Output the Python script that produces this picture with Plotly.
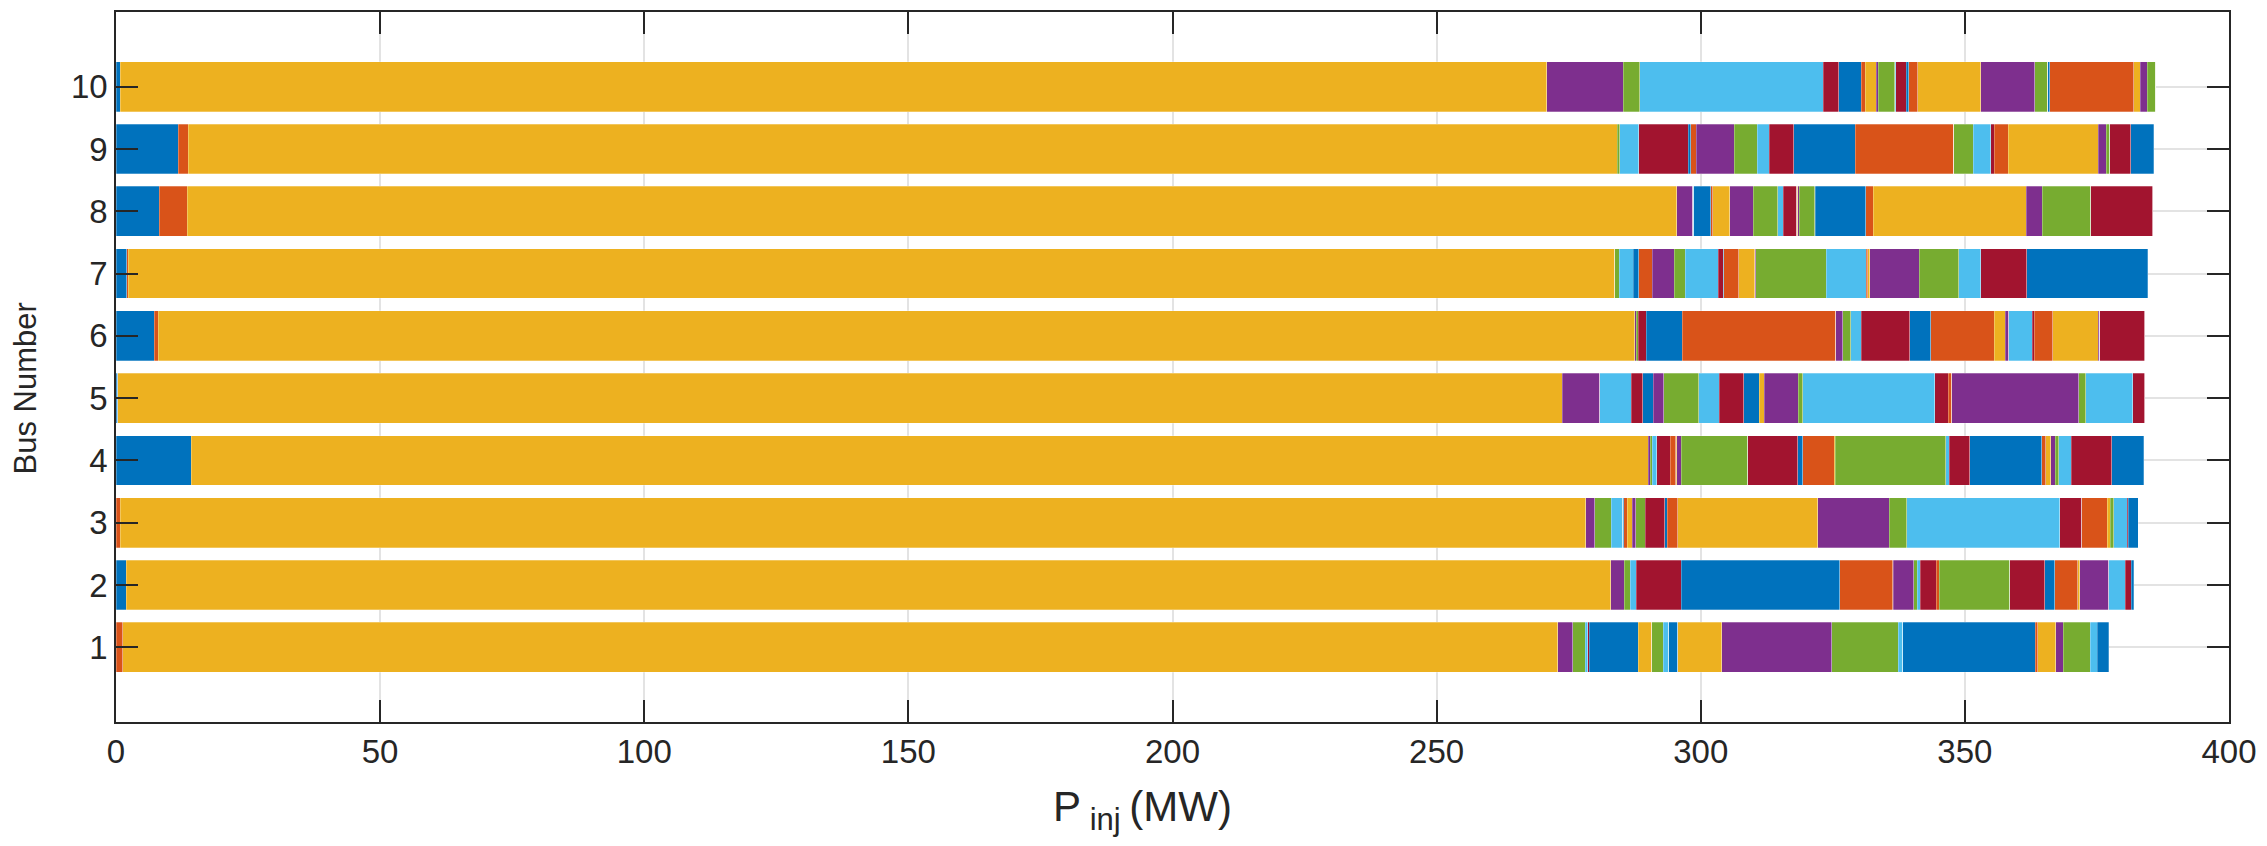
import plotly.graph_objects as go

buses = [1, 2, 3, 4, 5, 6, 7, 8, 9, 10]

# Stacked contributions (MW) for each bus, in stacking order (colour cycle repeats every 7)
bus1 = [0, 1.3, 271.67, 2.79, 2.36, 0.5, 0.25, 9.3, 0, 2.54, 0, 2.19, 1.02, 0, 1.69, 0,
        8.36, 20.86, 12.58, 0.85, 0, 25.08, 0.42, 3.47, 1.43, 5.07, 1.35, 0, 2.2]
bus2 = [1.95, 0, 280.99, 2.53, 1.18, 1.1, 8.53, 30.07, 9.97, 0.15, 3.82, 0.67, 0.59, 3.04, 0, 0.59,
        0, 0, 13.35, 0, 6.59, 1.86, 4.39, 0.42, 5.49, 0, 3.12, 1.1, 0.5]
bus3 = [0, 0.8, 277.4, 1.69, 3.12, 2.2, 0, 0.25, 0.59, 1.02, 0.67, 1.78, 0, 3.71, 0.42, 2.03,
        26.44, 13.6, 3.29, 28.97, 4.14, 0, 4.81, 0.6, 0, 0.68, 2.52, 0.17, 1.94]
bus4 = [14.2, 0, 275.9, 0.34, 0.34, 0.92, 2.54, 0, 1.01, 0.25, 0.85, 12.5, 0, 9.54, 0.93, 5.91,
        0.25, 0, 20.87, 0.67, 3.89, 13.6, 0.76, 1.01, 0.84, 0.68, 2.36, 7.61, 6.08]
bus5 = [0.3, 0, 273.5, 7.09, 0, 5.91, 2.2, 2.03, 0, 0, 1.94, 6.67, 3.89, 4.64, 2.87, 0,
        1.02, 6.42, 0.84, 25.0, 2.53, 0, 0.68, 0, 23.99, 1.35, 8.95, 2.2, 0]
bus6 = [7.2, 0.8, 279.5, 0.25, 0.42, 0, 1.53, 6.84, 29.05, 0, 1.27, 1.52, 2.02, 9.21, 3.89, 12.07,
        2.03, 0.68, 0, 4.47, 0.34, 0, 3.55, 8.61, 0.25, 0, 0, 8.54, 0]
bus7 = [2.0, 0.3, 281.4, 0, 0.84, 2.71, 0, 1.01, 2.53, 0, 4.23, 2.02, 6.25, 0.93, 0.17, 2.79,
        3.04, 0.17, 13.34, 7.6, 0, 0, 0.3, 0.35, 9.4, 7.44, 4.22, 8.7, 22.89]
bus8 = [8.2, 5.3, 282.0, 2.96, 0, 0.25, 0, 3.21, 0.34, 3.21, 4.48, 4.64, 1.01, 2.54, 0, 0.1,
        0.1, 0.35, 2.85, 0.17, 0, 9.54, 1.36, 29.05, 2.96, 9.2, 0, 11.74, 0]
bus9 = [11.8, 1.9, 270.5, 0, 0.43, 3.63, 9.37, 0.43, 1.1, 0, 7.18, 4.31, 2.36, 4.56, 11.65, 18.67,
        0, 0, 3.71, 3.3, 0.67, 0, 2.62, 17.06, 1.52, 0.68, 0, 3.97, 4.31]
bus10 = [0.8, 0, 270.06, 14.44, 3.13, 34.8, 2.87, 4.3, 0.76, 2.04, 0.4, 3.1, 0.25, 1.95, 0.5, 1.65,
         11.91, 10.24, 2.5, 0, 0, 0.4, 15.9, 1.2, 1.3, 1.65, 0, 0, 0]

x_ticks = [0, 50, 100, 150, 200, 250, 300, 350, 400]

colors = ["#0072BD", "#D95319", "#EDB120", "#7E2F8E", "#77AC30", "#4DBEEE", "#A2142F"]

rows = [bus1, bus2, bus3, bus4, bus5, bus6, bus7, bus8, bus9, bus10]
n_series = max(len(r) for r in rows)

fig = go.Figure()
for k in range(n_series):
    vals = [r[k] if k < len(r) else 0 for r in rows]
    fig.add_trace(go.Bar(
        x=vals, y=buses, orientation="h",
        marker=dict(color=colors[k % 7], line=dict(width=0.6, color="rgba(255,255,255,0.45)")),
        showlegend=False,
    ))

font_family = "Liberation Sans, Arial, Helvetica, sans-serif"
axis_color = "#262626"

fig.update_layout(
    barmode="stack",
    bargap=0.2,
    width=2267, height=846,
    margin=dict(l=116, r=36, t=10, b=124),
    paper_bgcolor="white", plot_bgcolor="white",
    font=dict(family=font_family, size=33, color=axis_color),
    annotations=[
        dict(text="P<sub><span style='font-size:31px'> inj </span></sub>(MW)",
             xref="paper", yref="paper", x=0.486, y=-0.083,
             xanchor="center", yanchor="top", showarrow=False,
             font=dict(size=42, color=axis_color, family=font_family)),
        dict(text="Bus Number", textangle=-90,
             xref="paper", yref="paper", x=-0.043, y=0.47,
             xanchor="center", yanchor="middle", showarrow=False,
             font=dict(size=31, color=axis_color, family=font_family)),
    ],
)
fig.update_xaxes(
    range=[0, 400], tickvals=x_ticks, ticktext=[str(v) for v in x_ticks],
    showgrid=True, gridcolor="#e3e3e3", gridwidth=1.5,
    showline=True, linecolor=axis_color, linewidth=1.5, mirror="ticks",
    ticks="inside", ticklen=22, tickwidth=1.5, tickcolor=axis_color,
    zeroline=False,
)
fig.update_yaxes(
    range=[-0.2, 11.2], tickvals=buses, ticktext=[str(b) for b in buses],
    showgrid=True, gridcolor="#e3e3e3", gridwidth=1.5,
    showline=True, linecolor=axis_color, linewidth=1.5, mirror="ticks",
    ticks="inside", ticklen=22, tickwidth=1.5, tickcolor=axis_color,
    zeroline=False,
)

fig.write_html("out.html")
